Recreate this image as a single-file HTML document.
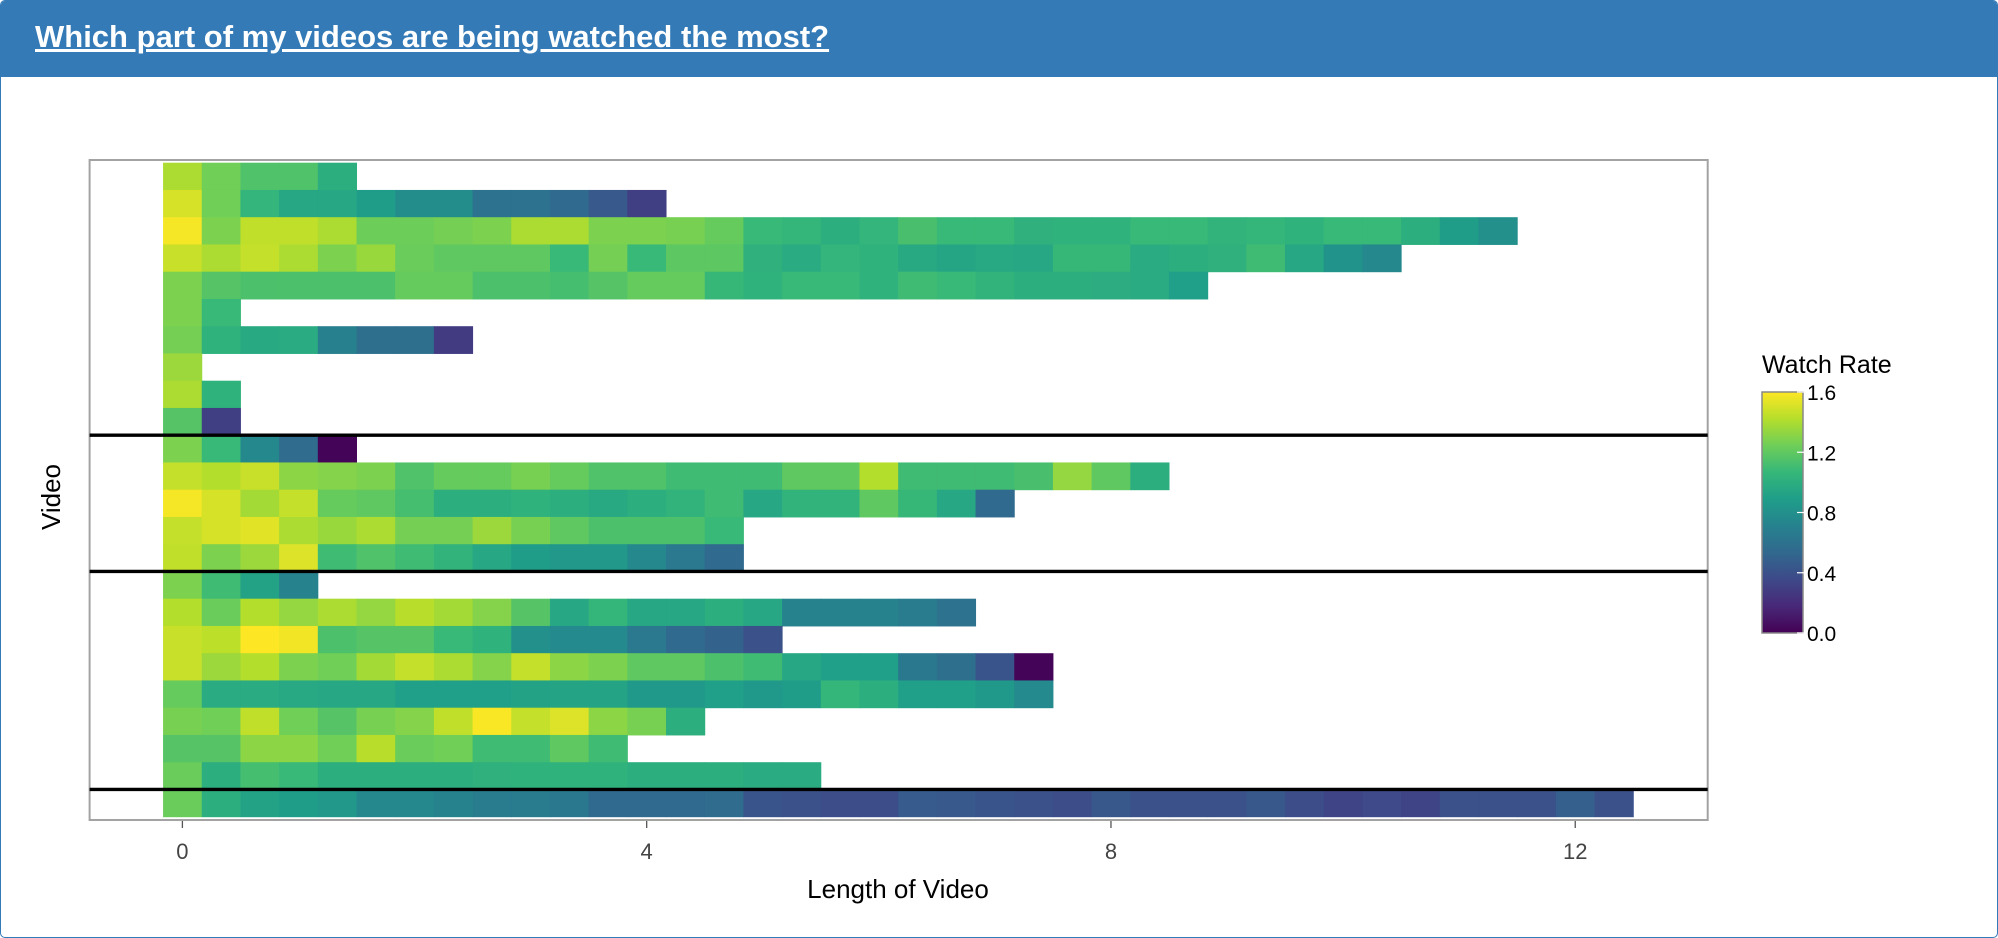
<!DOCTYPE html>
<html><head><meta charset="utf-8"><style>
html,body{margin:0;padding:0;background:#fff;}
body{width:1998px;height:938px;overflow:hidden;position:relative;font-family:"Liberation Sans",sans-serif;}
#panel{position:absolute;left:0;top:0;width:1996px;height:936px;border:1px solid #337ab7;border-radius:5px;overflow:hidden;}
#hdr{position:absolute;left:0;top:0;width:1996px;height:76px;background:#337ab7;}
#title{position:absolute;left:34px;top:18px;color:#fff;font-weight:bold;font-size:31px;text-decoration:underline;white-space:nowrap;}
svg{position:absolute;left:0;top:0;}
</style></head><body>
<div id="panel">
<div id="hdr">
<a id="title">Which part of my videos are being watched the most?</a>
</div>
</div>
<svg id="chart" width="1998" height="938"></svg>
<script>
const rowValues = [
[1.4,1.25,1.15,1.15,1.0],
[1.5,1.25,1.05,0.95,0.95,0.88,0.78,0.78,0.6,0.6,0.55,0.45,0.3],
[1.58,1.28,1.45,1.45,1.4,1.24,1.24,1.26,1.28,1.4,1.4,1.28,1.28,1.27,1.22,1.08,1.06,1.0,1.05,1.13,1.08,1.08,1.02,1.03,1.03,1.08,1.08,1.04,1.06,1.03,1.08,1.08,1.0,0.88,0.8],
[1.47,1.4,1.46,1.4,1.28,1.35,1.23,1.2,1.2,1.2,1.08,1.26,1.08,1.19,1.19,1.02,0.98,1.05,1.03,0.97,0.94,0.96,0.95,1.07,1.07,0.98,1.0,1.02,1.1,0.95,0.82,0.75],
[1.28,1.17,1.14,1.14,1.14,1.14,1.22,1.22,1.14,1.14,1.12,1.17,1.22,1.22,1.07,1.03,1.08,1.08,1.03,1.1,1.08,1.04,1.0,1.0,0.99,0.98,0.9],
[1.28,1.08],
[1.26,1.03,0.97,0.98,0.7,0.58,0.58,0.28],
[1.36],
[1.4,1.03],
[1.17,0.3],
[1.28,1.08,0.75,0.56,0.02],
[1.46,1.42,1.47,1.32,1.3,1.28,1.15,1.22,1.22,1.27,1.22,1.15,1.15,1.1,1.1,1.1,1.2,1.2,1.42,1.1,1.1,1.1,1.13,1.34,1.2,1.0],
[1.58,1.5,1.38,1.46,1.22,1.2,1.12,1.0,1.0,1.03,1.0,0.97,1.0,1.04,1.1,0.95,1.04,1.04,1.2,1.07,0.95,0.55],
[1.46,1.5,1.53,1.4,1.35,1.4,1.26,1.26,1.36,1.27,1.2,1.14,1.14,1.14,1.08],
[1.45,1.28,1.36,1.52,1.1,1.15,1.1,1.04,0.95,0.88,0.85,0.85,0.75,0.65,0.55],
[1.28,1.1,0.92,0.72],
[1.42,1.23,1.42,1.34,1.4,1.34,1.43,1.38,1.3,1.17,0.95,1.06,0.95,0.95,1.0,0.95,0.72,0.72,0.72,0.66,0.6],
[1.47,1.44,1.6,1.57,1.14,1.17,1.17,1.08,1.03,0.8,0.76,0.76,0.65,0.55,0.5,0.4],
[1.47,1.36,1.42,1.28,1.25,1.38,1.46,1.4,1.3,1.46,1.32,1.28,1.2,1.2,1.14,1.1,0.95,0.9,0.9,0.64,0.58,0.42,0.02],
[1.22,0.98,0.98,0.96,0.95,0.95,0.9,0.9,0.9,0.92,0.93,0.93,0.86,0.86,0.9,0.86,0.88,1.06,1.0,0.9,0.9,0.86,0.76],
[1.27,1.25,1.45,1.25,1.17,1.27,1.3,1.45,1.59,1.46,1.52,1.32,1.27,1.0],
[1.17,1.17,1.32,1.32,1.25,1.43,1.23,1.25,1.1,1.1,1.2,1.1],
[1.23,1.0,1.12,1.08,1.0,1.0,1.0,1.0,1.02,1.03,1.03,1.03,1.0,1.0,1.0,0.98,0.98],
[1.23,1.0,0.92,0.88,0.85,0.75,0.75,0.72,0.66,0.66,0.64,0.55,0.55,0.55,0.56,0.42,0.4,0.38,0.38,0.46,0.45,0.42,0.4,0.38,0.44,0.4,0.4,0.4,0.44,0.38,0.33,0.36,0.33,0.4,0.4,0.4,0.48,0.4]
];
const xTicks = [0,4,8,12];
const legendTicks = [0.0,0.4,0.8,1.2,1.6];
const separatorsAfterRow = [10,15,23];
const step = 1/3;

const svg = document.getElementById('chart');
const NS = 'http://www.w3.org/2000/svg';
const P = {l:89.6,r:1707.7,t:160,b:820};
const X0 = 182.4, XU = 116.07;
const rowTop = 162.7, rowH = 27.25;
function xScale(v){return X0 + v*XU;}
function yScale(i){return rowTop + i*rowH;}
const vir = ['#440154','#482878','#3e4989','#31688e','#26828e','#1f9e89','#35b779','#6ece58','#b5de2b','#fde725'];
function hex(c){return [1,3,5].map(i=>parseInt(c.substr(i,2),16));}
function color(v){
  let t = Math.max(0,Math.min(1,v/1.6))*(vir.length-1);
  let i = Math.min(vir.length-2, Math.floor(t)), f = t-i;
  const a = hex(vir[i]), b = hex(vir[i+1]);
  return 'rgb('+a.map((x,k)=>Math.round(x+(b[k]-x)*f)).join(',')+')';
}
function mk(tag, attrs, parent){
  const e = document.createElementNS(NS, tag);
  for (const k in attrs) e.setAttribute(k, attrs[k]);
  (parent||svg).appendChild(e); return e;
}
const frame = mk('rect',{x:P.l,y:P.t,width:P.r-P.l,height:P.b-P.t,fill:'#fff',stroke:'#a3a3a3','stroke-width':2});


rowValues.forEach((row, r) => {
  row.forEach((v, c) => {
    const cell = mk('rect',{x:xScale(c*step - step/2),y:yScale(r),width:XU*step+0.5,height:rowH+0.5,fill:color(v)});
    
    
  });
});
separatorsAfterRow.forEach(n => {
  const ln = mk('line',{x1:P.l,x2:P.r,y1:yScale(n),y2:yScale(n),stroke:'#000','stroke-width':3.4});
  
  
});
xTicks.forEach(t => {
  const tk = mk('line',{x1:xScale(t),x2:xScale(t),y1:P.b+1,y2:P.b+8,stroke:'#555','stroke-width':1.3});
  
  
  const lb = mk('text',{x:xScale(t),y:P.b+39,'text-anchor':'middle','font-size':22,fill:'#444'});
  lb.textContent = t;
  
  
});
const xt = mk('text',{x:898,y:898,'text-anchor':'middle','font-size':26,fill:'#000'});
xt.textContent = 'Length of Video';


const yt = mk('text',{x:0,y:0,'text-anchor':'middle','font-size':26,fill:'#000',transform:'translate(60,497) rotate(-90)'});
yt.textContent = 'Video';


const L = {x:1762,w:41,top:392,bot:633};
const defs = mk('defs',{});
const grad = mk('linearGradient',{id:'vg',x1:0,y1:1,x2:0,y2:0},defs);
vir.forEach((c,i)=>mk('stop',{offset:i/(vir.length-1),'stop-color':c},grad));
const lt = mk('text',{x:L.x,y:373,'font-size':25,fill:'#000'});
lt.textContent = 'Watch Rate';


const bar = mk('rect',{x:L.x,y:L.top,width:L.w,height:L.bot-L.top,fill:'url(#vg)',stroke:'#888','stroke-width':1.5});


function ly(v){return L.bot - v/1.6*(L.bot-L.top);}
legendTicks.forEach(v=>{
  const tk = mk('line',{x1:L.x+L.w-6,x2:L.x+L.w+2,y1:ly(v),y2:ly(v),stroke:'#fff','stroke-width':1.2});
  
  
  const tl = mk('text',{x:L.x+L.w+4,y:ly(v)+8,'font-size':21,fill:'#000'});
  tl.textContent = v.toFixed(1);
  
  
});
</script>
</body></html>
